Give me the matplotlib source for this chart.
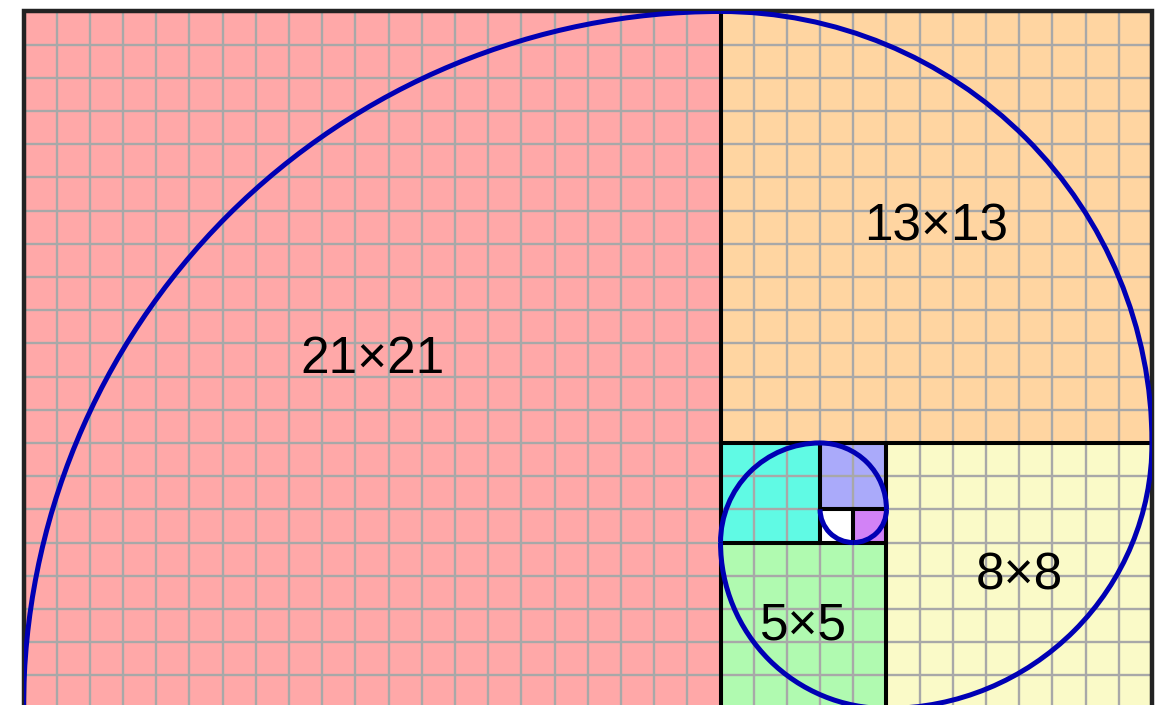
import matplotlib

matplotlib.use("Agg")
import matplotlib.pyplot as plt
from matplotlib.patches import Rectangle, Arc

# square sides, biggest first, in the order the spiral passes through them
sides = [21, 13, 8, 5, 3, 2, 1, 1]
fills = ["#ffa8a8", "#ffd5a1", "#fafac8", "#b0fab0", "#60fae4", "#aaaafa", "#d282f6", "#ffffff"]
labels = ["21×21", "13×13", "8×8", "5×5", "", "", "", ""]

W = sides[0] + sides[1]
H = sides[0]


def layout(sides):
    """
    Place each square next to the previous one, turning clockwise:
    right (top aligned), below (right aligned), left (bottom aligned), above (left aligned)
    :return a list of (x, y) lower-left corners
    """
    pos = [(0, 0)]
    for i, s in enumerate(sides[1:], start=1):
        d = (i - 1) % 4
        px, py, ps = pos[-1][0], pos[-1][1], sides[i - 1]
        if d == 0:
            x, y = px + ps, py + ps - s
        elif d == 1:
            x, y = px + ps - s, py - s
        elif d == 2:
            x, y = px - s, py
        else:
            x, y = px, py + ps
        pos.append((x, y))
    return pos


pos = layout(sides)

fig = plt.figure(figsize=(11.67, 7.05), dpi=100)
unit = 1128.5 / W
ax = fig.add_axes([23.5 / 1167, (705 - 708.5) / 705, W * unit / 1167, H * unit / 705])
ax.set_xlim(0, W)
ax.set_ylim(0, H)
ax.axis("off")

for (x, y), s, c in zip(pos, sides, fills):
    ax.add_patch(Rectangle((x, y), s, s, facecolor=c, edgecolor="none", zorder=1))

# the unit grid
ax.vlines(range(1, W), 0, H, color="#a8a8a8", lw=1.7, zorder=2)
ax.hlines(range(1, H), 0, W, color="#a8a8a8", lw=1.7, zorder=2)

for (x, y), s in zip(pos, sides):
    ax.add_patch(Rectangle((x, y), s, s, facecolor="none", edgecolor="black", lw=2.9, zorder=3))
ax.add_patch(Rectangle((0, 0), W, H, facecolor="none", edgecolor="#222222", lw=3.2, zorder=3, clip_on=False))

# quarter circles: centre corner and start angle turn with each square
corners = [(1, 0), (0, 0), (0, 1), (1, 1)]
starts = [90, 0, 270, 180]
for i, ((x, y), s) in enumerate(zip(pos, sides)):
    cx, cy = corners[i % 4]
    t1 = starts[i % 4]
    ax.add_patch(Arc((x + cx * s, y + cy * s), 2 * s, 2 * s, theta1=t1, theta2=t1 + 90,
                     color="#0000b4", lw=3.6, zorder=4))

for (x, y), s, lab in zip(pos, sides, labels):
    if lab:
        ax.text(x + s / 2, y + s / 2, lab, ha="center", va="center", fontsize=37,
                family=["Liberation Sans", "DejaVu Sans"], color="black", zorder=5)

fig.savefig("out.png", dpi=100)
